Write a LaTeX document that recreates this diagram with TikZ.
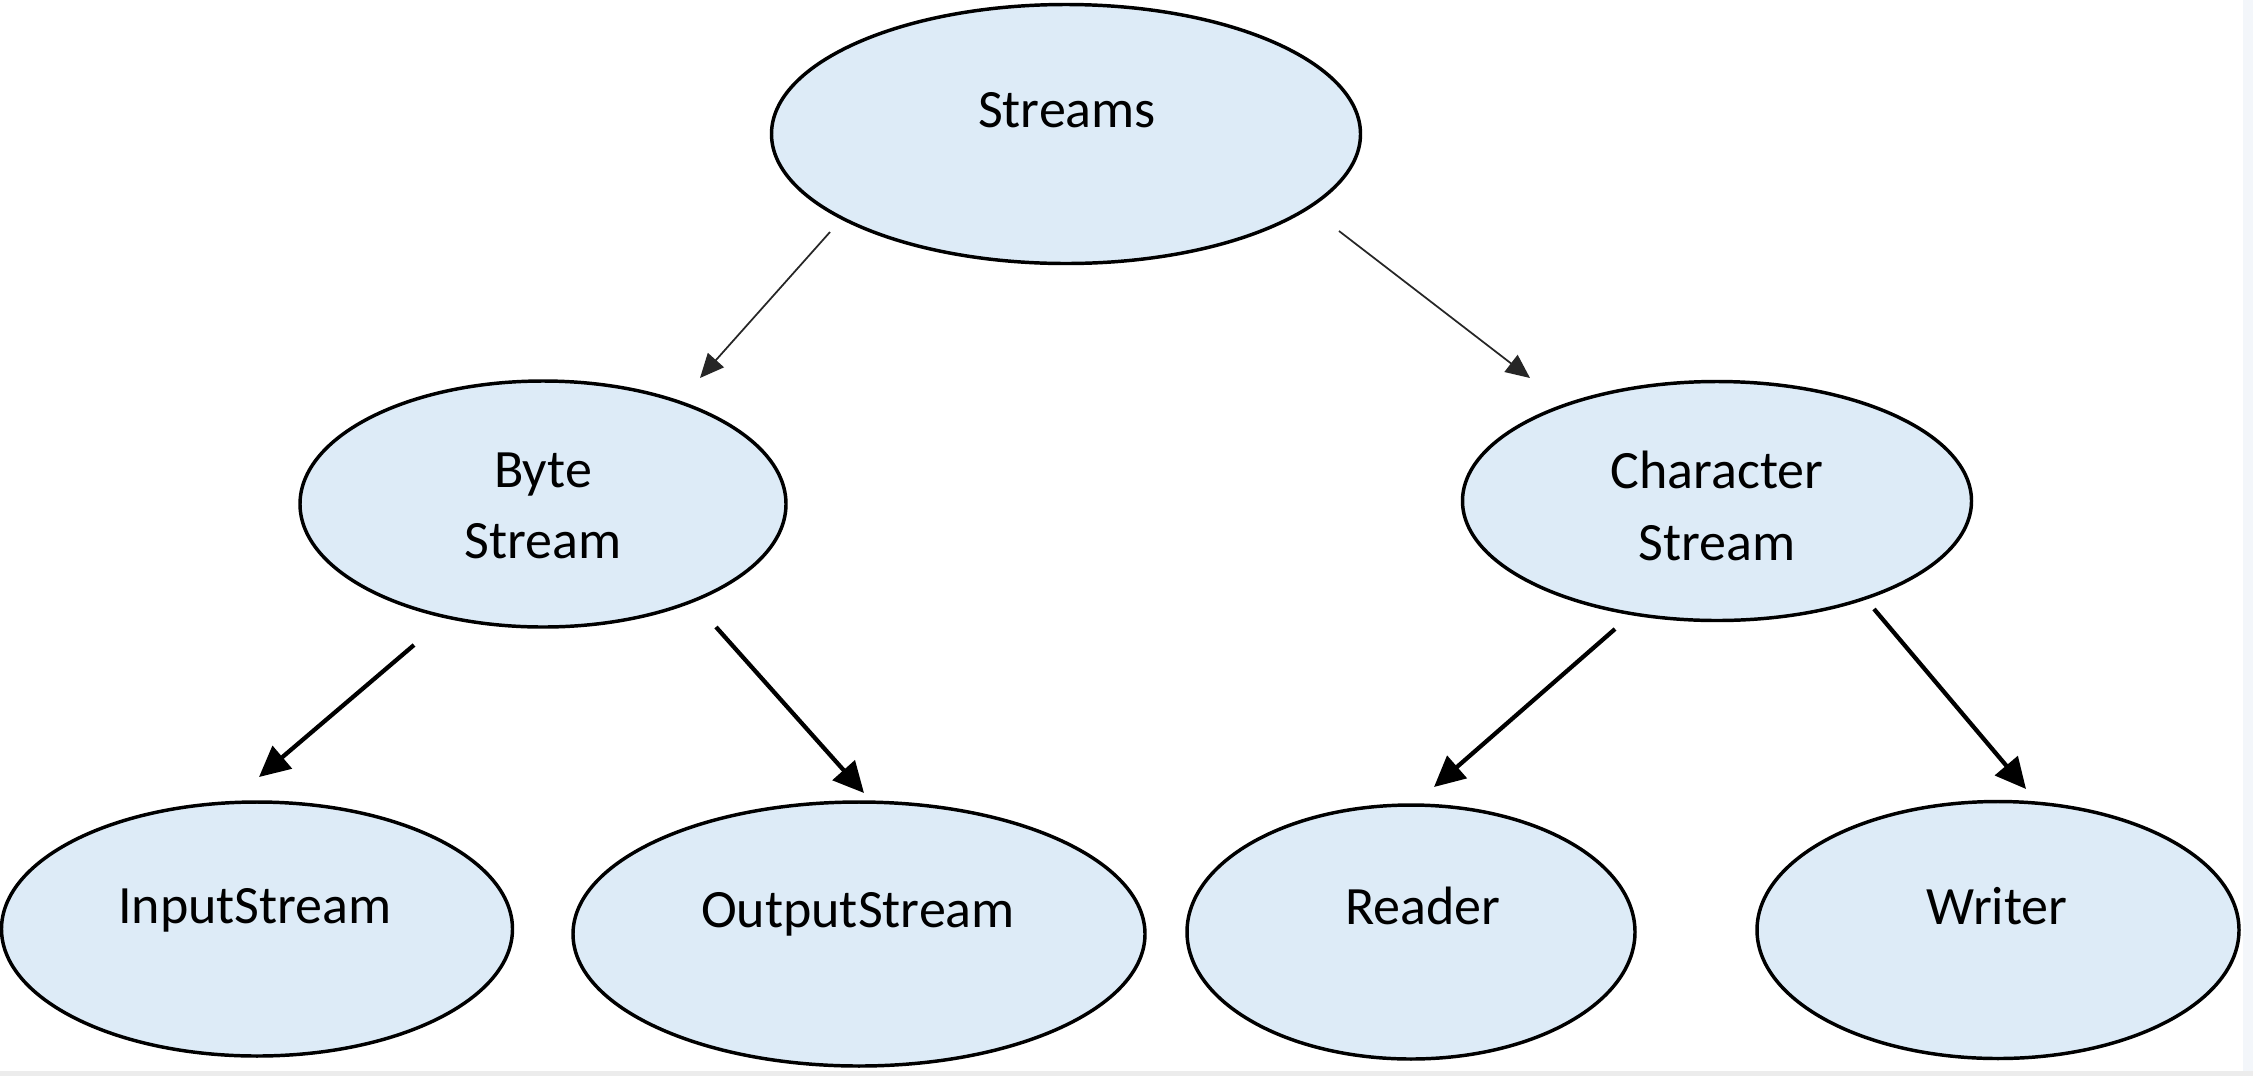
\documentclass[tikz,border=0pt]{standalone}
\usepackage{fontspec}
\setmainfont{Carlito}
\usetikzlibrary{shapes.geometric,arrows.meta}
\definecolor{ovalfill}{RGB}{221,235,247}
\definecolor{edgestrip}{RGB}{243,246,250}
\definecolor{bottomstrip}{RGB}{236,236,236}
\begin{document}
\begin{tikzpicture}[x=0.75pt,y=-0.75pt,
  oval/.style={ellipse,draw=black,line width=2.6pt,fill=ovalfill,inner sep=0pt},
  lbl/.style={anchor=base,inner sep=0pt,font=\fontsize{40.5}{53}\selectfont},
  thinarrow/.style={draw=black!85,line width=1.3pt,-{Triangle[length=18pt,width=16pt]}},
  thickarrow/.style={draw=black,line width=3.2pt,-{Triangle[length=23pt,width=22pt]}}]
\useasboundingbox (0,0) rectangle (2253,1076);
\fill[white] (0,0) rectangle (2253,1076);
\fill[edgestrip] (2243,0) rectangle (2253,1076);
\fill[bottomstrip] (0,1071) rectangle (2253,1076);

% ellipses
\node[oval,minimum width=0.75pt*589,minimum height=0.75pt*259] (streams) at (1066,134) {};
\node[oval,minimum width=0.75pt*486,minimum height=0.75pt*246] (byte) at (543,504) {};
\node[oval,minimum width=0.75pt*509,minimum height=0.75pt*239] (char) at (1717,501) {};
\node[oval,minimum width=0.75pt*511,minimum height=0.75pt*254] (input) at (257,929) {};
\node[oval,minimum width=0.75pt*572,minimum height=0.75pt*264] (output) at (859,934) {};
\node[oval,minimum width=0.75pt*448,minimum height=0.75pt*254] (reader) at (1411,932) {};
\node[oval,minimum width=0.75pt*482,minimum height=0.75pt*257] (writer) at (1998,930) {};

% labels
\node[lbl] (tstreams) at (1067,127) {Streams};
\node[lbl] (tbyte1) at (543,487) {Byte};
\node[lbl] (tbyte2) at (543,558) {Stream};
\node[lbl] (tchar1) at (1717,488) {Character};
\node[lbl] (tchar2) at (1717,560) {Stream};
\node[lbl] (tinput) at (255,923) {InputStream};
\node[lbl] (toutput) at (858,927) {OutputStream};
\node[lbl] (treader) at (1423,924) {Reader};
\node[lbl] (twriter) at (1997,924) {Writer};

% connector ends
\coordinate (a1s) at (830,232);
\coordinate (a1e) at (700,378);
\coordinate (a2s) at (1339,231);
\coordinate (a2e) at (1530,378);
\coordinate (a3s) at (414,645);
\coordinate (a3e) at (259,777);
\coordinate (a4s) at (716,627);
\coordinate (a4e) at (864,793);
\coordinate (a5s) at (1615,629);
\coordinate (a5e) at (1434,787);
\coordinate (a6s) at (1874,609);
\coordinate (a6e) at (2026,789);

\draw[thinarrow] (a1s) -- (a1e);
\draw[thinarrow] (a2s) -- (a2e);
\draw[thickarrow] (a3s) -- (a3e);
\draw[thickarrow] (a4s) -- (a4e);
\draw[thickarrow] (a5s) -- (a5e);
\draw[thickarrow] (a6s) -- (a6e);
\end{tikzpicture}
\end{document}
